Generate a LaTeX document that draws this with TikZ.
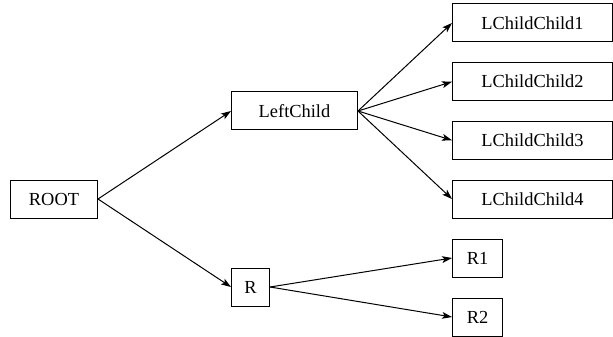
\documentclass[tikz,border=0pt]{standalone}
\usepackage{fontspec}
\setmainfont{Liberation Serif}
\usepackage{tikz}
\usetikzlibrary{arrows.meta}

\begin{document}
\begin{tikzpicture}[x=0.5pt, y=-0.5pt, every edge/.style={draw,solid},
                    every node/.style={font=\fontsize{9.2}{11}\selectfont},
                    box/.style={draw=black, rectangle, minimum height=19pt, inner sep=0pt, anchor=west},
                    >={Stealth[length=5pt, width=3.4pt, inset=1.2pt]}, line width=0.5pt]
\useasboundingbox (0,0) rectangle (613,336);

\node[box, minimum width=43.5pt] (root) at (10,199) {ROOT};
\node[box, minimum width=63pt] (lc) at (231,111) {LeftChild};
\node[box, minimum width=19pt] (r) at (231,287) {R};

\node[box, minimum width=80pt] (lcc1) at (452,23) {LChildChild1};
\node[box, minimum width=80pt] (lcc2) at (452,81.7) {LChildChild2};
\node[box, minimum width=80pt] (lcc3) at (452,140.3) {LChildChild3};
\node[box, minimum width=80pt] (lcc4) at (452,199) {LChildChild4};
\node[box, minimum width=25pt] (r1) at (452,258) {R1};
\node[box, minimum width=25pt] (r2) at (452,317) {R2};

\path[->]
(root.east) edge (lc.west)
(root.east) edge (r.west)
(lc.east) edge (lcc1.west)
(lc.east) edge (lcc2.west)
(lc.east) edge (lcc3.west)
(lc.east) edge (lcc4.west)
(r.east) edge (r1.west)
(r.east) edge (r2.west) ;
\end{tikzpicture}
\end{document}
